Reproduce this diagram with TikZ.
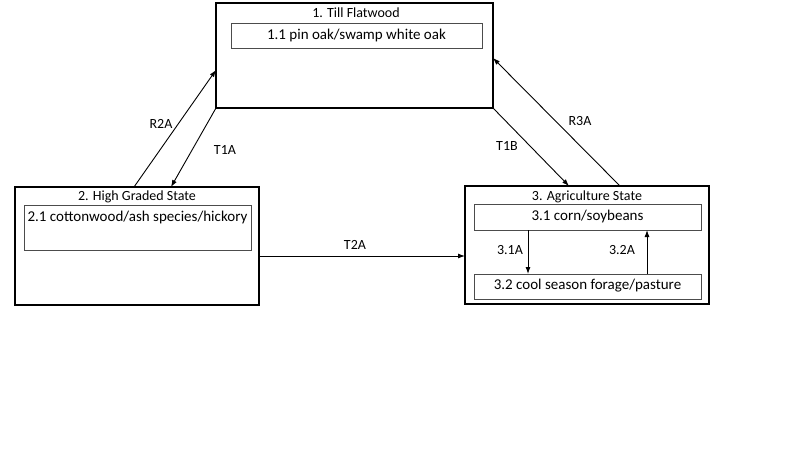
\documentclass[tikz,border=0pt]{standalone}
\usepackage{fontspec}
\setmainfont{Carlito}
\usetikzlibrary{arrows.meta}
\begin{document}
\begin{tikzpicture}[x=1pt,y=-1pt,
  outerbox/.style={draw=black,line width=2.6pt,minimum width=#1,inner sep=0pt,outer sep=0pt},
  innerbox/.style={draw=black!70,line width=0.8pt,inner sep=0pt,outer sep=0pt},
  ttl/.style={font=\fontsize{14}{16}\selectfont,inner sep=0pt},
  itxt/.style={font=\fontsize{15}{17}\selectfont,inner sep=0pt},
  lbl/.style={font=\fontsize{14}{16}\selectfont,inner sep=0pt},
  arr/.style={line width=0.9pt,-{Latex[length=7pt,width=5pt]}}]
\useasboundingbox[fill=white] (0,0) rectangle (800,450);
% State 1
\node[outerbox=277pt,minimum height=105pt] (s1) at (354.5,55.5) {};
\node[ttl] (t1) at (356,13) {1. Till Flatwood};
\node[innerbox,minimum width=251pt,minimum height=25pt] (b11) at (356.5,35.5) {};
\node[itxt] (x11) at (356.5,35) {1.1 pin oak/swamp white oak};
% State 2
\node[outerbox=244pt,minimum height=118pt] (s2) at (137,246) {};
\node[ttl] (t2) at (137,197) {2. High Graded State};
\node[innerbox,minimum width=227pt,minimum height=45pt] (b21) at (137.5,227.5) {};
\node[itxt] (x21) at (137.5,217) {2.1 cottonwood/ash species/hickory};
% State 3
\node[outerbox=244pt,minimum height=118pt] (s3) at (587,245) {};
\node[ttl] (t3) at (587,197) {3. Agriculture State};
\node[innerbox,minimum width=227pt,minimum height=26pt] (b31) at (587.5,217) {};
\node[itxt] (x31) at (587.5,216.5) {3.1 corn/soybeans};
\node[innerbox,minimum width=227pt,minimum height=25pt] (b32) at (587.5,286.5) {};
\node[itxt] (x32) at (587.5,286) {3.2 cool season forage/pasture};
% Transitions
\draw[arr] (s2.north -| 134,0) -- (s1.west |- 0,70);
\draw[arr] (s1.south west) -- (s2.north -| 171,0);
\draw[arr] (s1.south east) -- (s3.north -| 569,0);
\draw[arr] (s3.north -| 620,0) -- (s1.east |- 0,58);
\draw[arr] (s2.east |- 0,256) -- (s3.west |- 0,256);
\draw[arr] (b31.south -| 528,0) -- (b32.north -| 528,0);
\draw[arr] (b32.north -| 647,0) -- (b31.south -| 647,0);
% Labels
\node[lbl] (lr2a) at (161,124) {R2A};
\node[lbl] (lt1a) at (225,150) {T1A};
\node[lbl] (lt1b) at (507,146) {T1B};
\node[lbl] (lr3a) at (580,121) {R3A};
\node[lbl] (lt2a) at (355,245) {T2A};
\node[lbl] (l31a) at (510,250) {3.1A};
\node[lbl] (l32a) at (622,250) {3.2A};
\end{tikzpicture}
\end{document}
